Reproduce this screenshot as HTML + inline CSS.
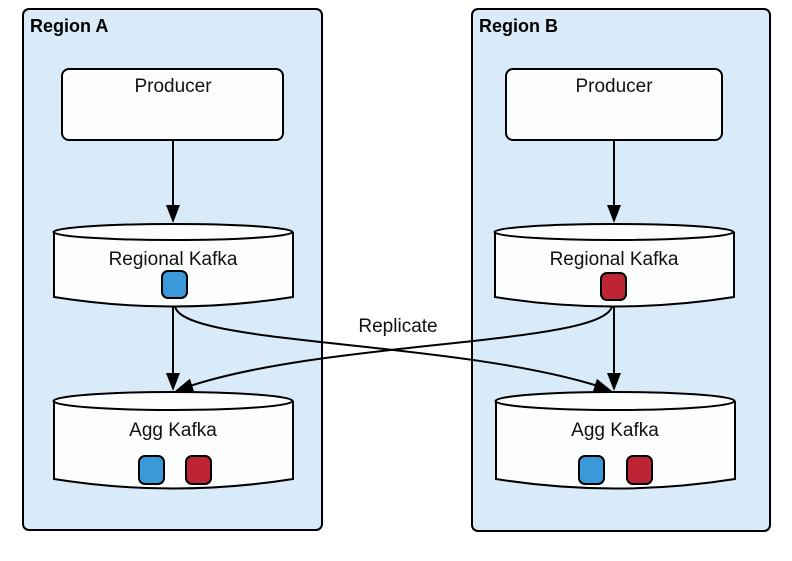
<!DOCTYPE html>
<html><head><style>body{margin:0;background:#fff}</style></head><body>
<svg width="792" height="556" viewBox="0 0 792 556" xmlns="http://www.w3.org/2000/svg" font-family="Liberation Sans, sans-serif">
<g stroke="#000" stroke-width="2">
<rect x="23" y="9" width="299" height="521" rx="6" fill="#d9ebf8"/>
<rect x="472" y="9" width="298" height="522" rx="6" fill="#d9ebf8"/>
<rect x="62" y="69" width="221" height="71" rx="7" fill="#fcfdfd"/>
<rect x="506" y="69" width="216" height="71" rx="7" fill="#fcfdfd"/>
</g>
<g font-size="18" font-weight="bold"><text x="30" y="32">Region A</text><text x="479" y="32">Region B</text></g>
<g font-size="19" text-anchor="middle" fill="#111"><text x="173" y="92">Producer</text><text x="614" y="92">Producer</text></g>
<g stroke="#000" stroke-width="2" fill="#fcfdfd">
<path d="M54,232 L54,297 Q173,316 293,297 L293,232"/><ellipse cx="173" cy="232" rx="119.5" ry="8"/>
<path d="M495,232 L495,297 Q614,316 734,297 L734,232"/><ellipse cx="614" cy="232" rx="119.5" ry="8"/>
<path d="M54,401 L54,479 Q173,498 293,479 L293,401"/><ellipse cx="173" cy="401" rx="119.5" ry="9"/>
<path d="M496,401 L496,479 Q615,498 735,479 L735,401"/><ellipse cx="615" cy="401" rx="119.5" ry="9"/>
</g>
<g font-size="19" text-anchor="middle" fill="#111"><text x="173" y="265">Regional Kafka</text><text x="614" y="265">Regional Kafka</text><text x="173" y="436">Agg Kafka</text><text x="615" y="436">Agg Kafka</text><text x="398" y="332">Replicate</text></g>
<g stroke="#000" stroke-width="2">
<rect x="162" y="271" width="25" height="27" rx="6" fill="#3a99d8"/>
<rect x="601" y="273" width="25" height="27" rx="6" fill="#bd2535"/>
<rect x="139" y="456" width="25" height="28" rx="6" fill="#3a99d8"/>
<rect x="186" y="456" width="25" height="28" rx="6" fill="#bd2535"/>
<rect x="579" y="456" width="25" height="28" rx="6" fill="#3a99d8"/>
<rect x="627" y="456" width="25" height="28" rx="6" fill="#bd2535"/>
</g>
<g stroke="#000" stroke-width="2" fill="none">
<line x1="173" y1="140" x2="173" y2="208"/>
<line x1="614" y1="140" x2="614" y2="208"/>
<line x1="173" y1="306" x2="173" y2="376"/>
<line x1="614" y1="306" x2="614" y2="376"/>
<path d="M175,306 C180,345 450,340 598,386"/>
<path d="M612,306 C605,345 330,340 190,386"/>
</g>
<g fill="#000">
<polygon points="173,223 166,205 180,205"/>
<polygon points="614,223 607,205 621,205"/>
<polygon points="173,391 166,373 180,373"/>
<polygon points="614,391 607,373 621,373"/>
<polygon points="612,391 592.7,392.3 596.9,378.9"/>
<polygon points="175,391 194.3,392 189.9,378.8"/>
</g>
</svg>
</body></html>
